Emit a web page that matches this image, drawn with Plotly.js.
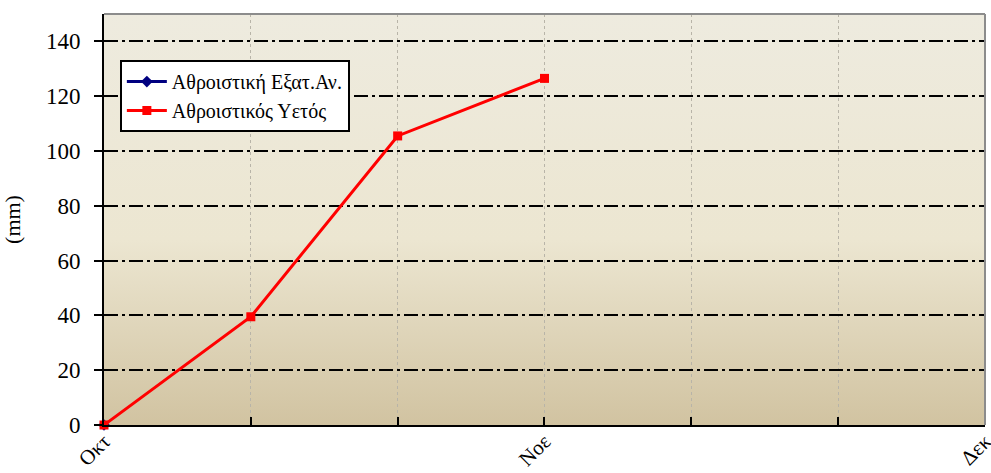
<!DOCTYPE html>
<html>
<head>
<meta charset="utf-8">
<script src="https://cdn.plot.ly/plotly-3.0.1.min.js"></script>
<style>html,body{margin:0;padding:0;background:#fff;}#chart{width:991px;height:473px;}</style>
</head>
<body>
<div id="chart"></div>
<script>
// Data
const xPositions = [0, 1, 2, 3, 4, 5, 6];
const xTickText = ['Οκτ', '', '', 'Νοε', '', '', 'Δεκ'];
const evapName = 'Αθροιστική Εξατ.Αν.';
const evapX = [0];
const evapY = [0];
const rainName = 'Αθροιστικός Υετός';
const rainX = [0, 1, 2, 3];
const rainY = [0, 39.5, 105.5, 126.5];
const yTicks = [0, 20, 40, 60, 80, 100, 120, 140];

const font = 'Liberation Serif, Times New Roman, serif';

const grad = '<svg xmlns="http://www.w3.org/2000/svg" width="10" height="100" preserveAspectRatio="none">' +
  '<defs><linearGradient id="g" x1="0" y1="0" x2="0" y2="1">' +
  '<stop offset="0" stop-color="#eeebdf"/>' +
  '<stop offset="0.55" stop-color="#ece6d1"/>' +
  '<stop offset="1" stop-color="#d1c3a1"/>' +
  '</linearGradient></defs><rect width="10" height="100" fill="url(#g)"/></svg>';

const traces = [
  {x: evapX, y: evapY, name: evapName, mode: 'lines+markers', type: 'scatter',
   line: {color: '#000080', width: 3}, marker: {symbol: 'diamond', size: 9, color: '#000080'}, cliponaxis: false},
  {x: rainX, y: rainY, name: rainName, mode: 'lines+markers', type: 'scatter',
   line: {color: '#ff0000', width: 3}, marker: {symbol: 'square', size: 9, color: '#ff0000'}, cliponaxis: false}
];

const layout = {
  width: 991, height: 473,
  margin: {l: 104, r: 6, t: 14, b: 48},
  paper_bgcolor: '#ffffff',
  plot_bgcolor: 'rgba(0,0,0,0)',
  font: {family: font, size: 23, color: '#000'},
  showlegend: true,
  legend: {x: 0.018, y: 0.888, xanchor: 'left', yanchor: 'top', bgcolor: '#ffffff',
    bordercolor: '#000', borderwidth: 2, font: {family: font, size: 20, color: '#000'},
    tracegroupgap: 0, entrywidth: 240, itemwidth: 40},
  xaxis: {
    range: [0, 6.0001], tickmode: 'array', tickvals: xPositions, ticktext: xTickText,
    tickangle: -45, ticks: 'inside', ticklen: 8, tickwidth: 2, tickcolor: '#000',
    ticklabelstandoff: -6,
    showgrid: true, gridcolor: '#b8b4a8', gridwidth: 1, griddash: 'dot',
    showline: true, linecolor: '#000', linewidth: 2, zeroline: false,
    ticklabeloverflow: 'allow',
    tickfont: {family: font, size: 21}, fixedrange: true
  },
  yaxis: {
    range: [0, 150], tickmode: 'array', tickvals: yTicks,
    ticks: 'outside', ticklen: 8, tickwidth: 2, tickcolor: '#000',
    ticklabelstandoff: 9,
    showgrid: true, gridcolor: '#000', gridwidth: 2, griddash: '14px,4px,3px,4px',
    showline: true, linecolor: '#000', linewidth: 2, zeroline: false,
    title: {text: '(mm)', font: {family: font, size: 22}, standoff: 22},
    tickfont: {family: font, size: 23}, fixedrange: true
  },
  images: [{source: 'data:image/svg+xml;charset=utf-8,' + encodeURIComponent(grad),
    xref: 'paper', yref: 'paper', x: 0, y: 1, sizex: 1, sizey: 1,
    sizing: 'stretch', layer: 'below', xanchor: 'left', yanchor: 'top'}],
  shapes: [
    {type: 'line', xref: 'paper', yref: 'paper', x0: 0, x1: 1, y0: 1, y1: 1, line: {color: '#8c8c8c', width: 2}},
    {type: 'line', xref: 'paper', yref: 'paper', x0: 1, x1: 1, y0: 0, y1: 1, line: {color: '#8c8c8c', width: 2}}
  ]
};

Plotly.newPlot('chart', traces, layout, {displayModeBar: false, staticPlot: true});
</script>
</body>
</html>
